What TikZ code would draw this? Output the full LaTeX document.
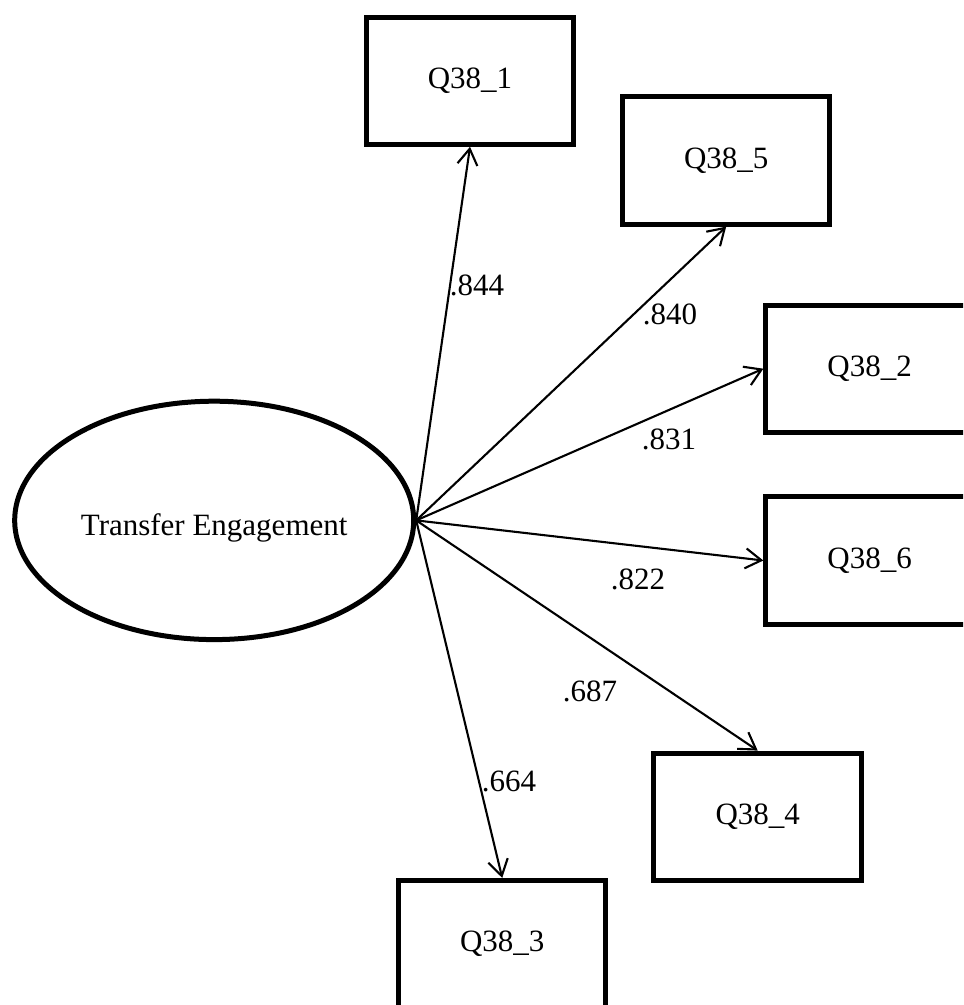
\documentclass[tikz,border=0pt]{standalone}
\usepackage{fontspec}
\setmainfont{Liberation Serif}
\usetikzlibrary{shapes.geometric,arrows.meta}
\begin{document}
\begin{tikzpicture}[x=0.5pt,y=-0.5pt,
  txt/.style={font=\fontsize{15.5}{18}\selectfont, inner sep=0pt},
  obs/.style={draw, line width=2.5pt, rectangle, minimum width=103.75pt, minimum height=63.6pt, inner sep=0pt, font=\fontsize{15.5}{18}\selectfont},
  latent/.style={draw, line width=2.5pt, ellipse, minimum width=199.5pt, minimum height=119.2pt, inner sep=0pt},
  path/.style={line width=1.05pt, -{Straight Barb[length=8pt,width=10pt]}},
  coef/.style={txt}
]
\useasboundingbox (0,0) rectangle (963,1005);
\clip (0,0) rectangle (963,1005);
\fill[white] (0,0) rectangle (963,1005);

\node[latent] (E) at (214.2,520.4) {};
\node[txt] (Et) at (214.2,528) {Transfer Engagement};

\node[obs] (Q1) at (470,80.7) {Q38\_1};
\node[obs] (Q5) at (726.2,160.5) {Q38\_5};
\node[obs] (Q2) at (869.6,368.7) {Q38\_2};
\node[obs] (Q6) at (869.6,560.5) {Q38\_6};
\node[obs] (Q4) at (757.7,816.7) {Q38\_4};
\node[obs] (Q3) at (502.2,944) {Q38\_3};

\draw[path] (E.east) -- (Q1.south);
\draw[path] (E.east) -- (Q5.south);
\draw[path] (E.east) -- (Q2.west);
\draw[path] (E.east) -- (Q6.west);
\draw[path] (E.east) -- (Q4.north);
\draw[path] (E.east) -- (Q3.north);

\node[coef] (c1) at (477,285) {.844};
\node[coef] (c5) at (670,314) {.840};
\node[coef] (c2) at (669,439) {.831};
\node[coef] (c6) at (638,579) {.822};
\node[coef] (c4) at (590,691) {.687};
\node[coef] (c3) at (509,781) {.664};
\end{tikzpicture}
\end{document}
